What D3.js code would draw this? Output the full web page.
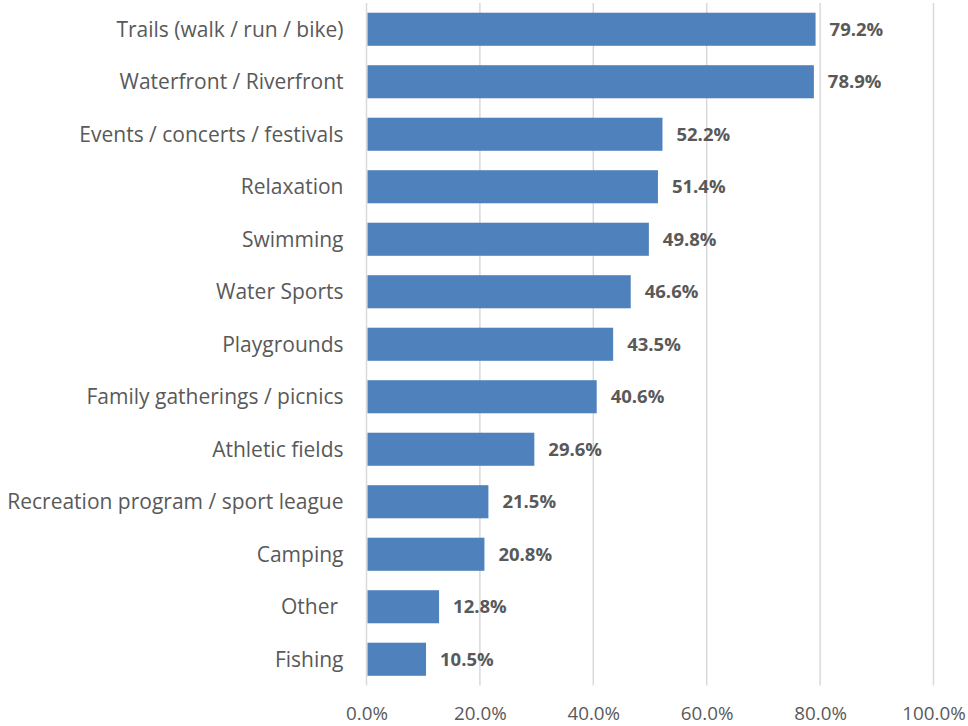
<!DOCTYPE html>
<html>
<head>
<meta charset="utf-8">
<script src="https://cdn.jsdelivr.net/npm/d3@7"></script>
<style>
  html, body { margin: 0; padding: 0; background: #fff; }
  svg { display: block; }
  text { font-family: "Open Sans", "Noto Sans", sans-serif; fill: #595959; }
</style>
</head>
<body>
<svg id="chart" width="968" height="726"></svg>
<script>
const categories = [
  "Trails (walk / run / bike)",
  "Waterfront / Riverfront",
  "Events / concerts / festivals",
  "Relaxation",
  "Swimming",
  "Water Sports",
  "Playgrounds",
  "Family gatherings / picnics",
  "Athletic fields",
  "Recreation program / sport league",
  "Camping",
  "Other ",
  "Fishing"
];
const values = [79.2, 78.9, 52.2, 51.4, 49.8, 46.6, 43.5, 40.6, 29.6, 21.5, 20.8, 12.8, 10.5];
const tickValues = [0, 20, 40, 60, 80, 100];

const svg = d3.select("#chart");
const plotLeft = 366.5, plotRight = 933.5, plotTop = 3, plotBottom = 685.5;

const x = d3.scaleLinear().domain([0, 100]).range([plotLeft, plotRight]);
const y = d3.scaleBand().domain(categories).range([plotTop, plotBottom])
  .paddingInner(0.37).paddingOuter(0.185);

// vertical gridlines
svg.append("g").selectAll("line").data(tickValues).join("line")
  .attr("x1", d => x(d)).attr("x2", d => x(d))
  .attr("y1", plotTop).attr("y2", plotBottom)
  .attr("stroke", "#d9d9d9").attr("stroke-width", 1.5);

// x axis tick labels
const xAxis = d3.axisBottom(x).tickValues(tickValues)
  .tickFormat(d => d.toFixed(1) + "%").tickSize(0).tickPadding(0);
const gx = svg.append("g").attr("transform", `translate(0, ${plotBottom + 21})`).call(xAxis);
gx.select(".domain").remove();
gx.selectAll("text").attr("font-size", 18.8).attr("font-family", null).attr("fill", "#595959")
  .attr("dy", "0.71em");

// category labels (keep trailing spaces)
const yAxis = d3.axisLeft(y).tickSize(0).tickPadding(0);
const gy = svg.append("g").attr("transform", `translate(${plotLeft - 23}, 1)`).call(yAxis);
gy.select(".domain").remove();
gy.selectAll("text").attr("font-size", 21).attr("font-family", null).attr("fill", "#595959")
  .style("white-space", "pre");

// bars
svg.append("g").selectAll("rect").data(values).join("rect")
  .attr("x", x(0) + 1)
  .attr("y", (d, i) => y(categories[i]))
  .attr("width", d => x(d) - x(0) - 1)
  .attr("height", y.bandwidth())
  .attr("fill", "#4f81bd");

// value labels
svg.append("g").selectAll("text").data(values).join("text")
  .attr("x", d => x(d) + 14)
  .attr("y", (d, i) => y(categories[i]) + y.bandwidth() / 2)
  .attr("dy", "0.36em")
  .attr("font-size", 18.5).attr("font-weight", "bold")
  .text(d => d.toFixed(1) + "%");
</script>
</body>
</html>
